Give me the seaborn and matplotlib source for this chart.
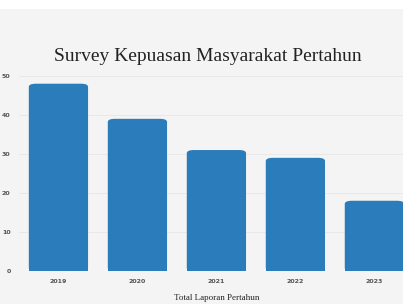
import matplotlib
matplotlib.use("Agg")
import matplotlib.pyplot as plt
import seaborn as sns
import pandas as pd
from matplotlib.patches import FancyBboxPatch, Rectangle

years = ["2019", "2020", "2021", "2022", "2023"]
values = [48, 39, 31, 29, 18]
yticks = [0, 10, 20, 30, 40, 50]

df = pd.DataFrame({"Tahun": years, "Jumlah": values})

sns.set_style("white")
fig = plt.figure(figsize=(4.03, 3.04), dpi=100, facecolor="#f4f4f4")
fig.patches.append(Rectangle((0, 0.972), 1, 0.03, transform=fig.transFigure,
                             facecolor="white", edgecolor="none", zorder=0))
ax = fig.add_axes([0.047, 0.1086, 0.98, 0.661])
ax.set_facecolor("#f4f4f4")

sns.barplot(data=df, x="Tahun", y="Jumlah", color="#2a7dba", width=0.75,
            saturation=1, ax=ax, zorder=3)

# round top corners
for p in list(ax.patches):
    x, y = p.get_x(), p.get_y()
    w, h = p.get_width(), p.get_height()
    p.set_visible(False)
    r = FancyBboxPatch((x, y), w, h, boxstyle="round,pad=0,rounding_size=0.09",
                       mutation_aspect=9, facecolor="#2a7dba", edgecolor="none", zorder=3)
    ax.add_patch(r)
    sq = Rectangle((x, y), w, h * 0.5, facecolor="#2a7dba", edgecolor="none", zorder=3)
    ax.add_patch(sq)

ax.set_ylim(0, 51.5)
ax.set_xlim(-0.5, 4.5)
ax.set_yticks(yticks)
ax.grid(axis="y", color="#e6e6e6", linewidth=0.6, zorder=0)
for s in ax.spines.values():
    s.set_visible(False)
ax.tick_params(axis="both", length=0, labelsize=4.5, labelcolor="#555555", pad=6)
for lbl in ax.get_xticklabels() + ax.get_yticklabels():
    lbl.set_fontweight("bold")
ax.set_ylabel("")
ax.set_xlabel("Total Laporan Pertahun", family="Liberation Serif", fontsize=6.5,
              color="#222222", labelpad=7)

fig.text(0.515, 0.815, "Survey Kepuasan Masyarakat Pertahun", family="Liberation Serif",
         fontsize=14, color="#222222", ha="center", va="center")

fig.savefig("out.png", dpi=100, facecolor=fig.get_facecolor())
